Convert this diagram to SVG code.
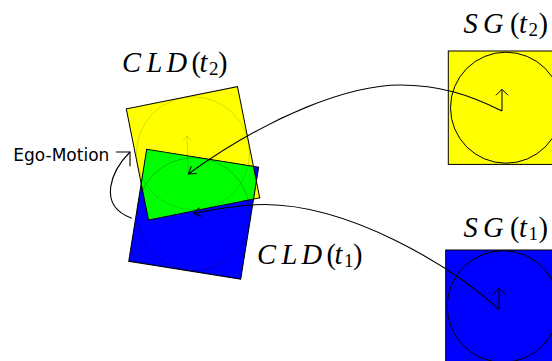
<svg xmlns="http://www.w3.org/2000/svg" width="552" height="361" viewBox="0 0 552 361">
<style>
.math{font-family:"Liberation Serif","DejaVu Serif",serif;font-size:28.5px;font-style:italic;fill:#000}
.up{font-style:normal}
.sub{font-style:normal;font-size:19px}
.lbl{font-family:"DejaVu Sans",sans-serif;font-size:17px;fill:#000}
.edge{fill:none;stroke:#000;stroke-width:1}
.ghost{fill:none;stroke:#000;stroke-width:0.8;stroke-opacity:0.18}
.conn{fill:none;stroke:#000;stroke-width:1.1}
</style>
<defs>
<marker id="ah" markerUnits="userSpaceOnUse" markerWidth="20" markerHeight="20" viewBox="-10 -10 20 20" refX="0" refY="0" orient="auto">
<path d="M-7,-4.5 L0,0 L-7,4.5" fill="none" stroke="#000" stroke-width="1"/>
</marker>
<marker id="ahBig" markerUnits="userSpaceOnUse" markerWidth="24" markerHeight="24" viewBox="-12 -12 24 24" refX="0" refY="0" orient="auto">
<path d="M-10,-10 L0,0 L-10,10" fill="none" stroke="#000" stroke-width="1.1"/>
</marker>
<rect id="sq" x="-56.7" y="-56.7" width="113.4" height="113.4"/>
<clipPath id="clipY">
<use href="#sq" transform="translate(193,153.3) rotate(-11.3)"/>
</clipPath>
</defs>

<g id="cld-t2-fill">
<use href="#sq" transform="translate(193,153.3) rotate(-11.3)" fill="#ffff00"/>
</g>
<g id="cld-t1-fill">
<use href="#sq" transform="translate(193.7,214.2) rotate(9.1)" fill="#0000ff"/>
</g>
<g id="overlap" clip-path="url(#clipY)">
<use href="#sq" transform="translate(193.7,214.2) rotate(9.1)" fill="#00ff00"/>
</g>
<g id="cld-ghosts">
<circle cx="193" cy="153.3" r="56.5" class="ghost"/>
<circle cx="193.7" cy="214.2" r="56.5" class="ghost" style="stroke-opacity:0.3"/>
<path d="M188.3,174 L187,136 M183,141.5 L187,136 L191.5,140.5" class="ghost"/>
</g>
<g id="cld-t2">
<use href="#sq" transform="translate(193,153.3) rotate(-11.3)" class="edge"/>
<text class="math" y="71.7"><tspan x="122">C</tspan><tspan x="146.5">L</tspan><tspan x="166.5">D</tspan><tspan x="191.5" class="up">(</tspan><tspan x="199.5">t</tspan><tspan x="209" dy="2.8" class="sub">2</tspan><tspan x="218" dy="-2.8" class="up">)</tspan></text>
</g>
<g id="cld-t1">
<use href="#sq" transform="translate(193.7,214.2) rotate(9.1)" class="edge"/>
<text class="math" y="264"><tspan x="257">C</tspan><tspan x="281.5">L</tspan><tspan x="301.5">D</tspan><tspan x="326.5" class="up">(</tspan><tspan x="334.5">t</tspan><tspan x="344" dy="2.8" class="sub">1</tspan><tspan x="353" dy="-2.8" class="up">)</tspan></text>
</g>

<g id="sg-t2">
<rect x="448.3" y="51" width="113.4" height="113.4" fill="#ffff00" stroke="#000" stroke-width="1"/>
<circle cx="506" cy="107.7" r="55.5" fill="none" stroke="#000" stroke-width="1"/>
<path d="M502,111 L502,89.3 M496,95.3 L502,89.3 L508,95.3" fill="none" stroke="#000" stroke-width="1"/>
<text class="math" y="33"><tspan x="463.5">S</tspan><tspan x="483">G</tspan><tspan x="510" class="up">(</tspan><tspan x="519">t</tspan><tspan x="528.5" dy="2.8" class="sub">2</tspan><tspan x="538.5" dy="-2.8" class="up">)</tspan></text>
</g>
<g id="sg-t1">
<rect x="445.7" y="250" width="113.4" height="113.4" fill="#0000ff" stroke="#000" stroke-width="1"/>
<circle cx="503" cy="306.5" r="55.8" fill="none" stroke="#000" stroke-width="1"/>
<path d="M499,309.3 L499,288.3 M492.5,294.8 L499,288.3 L505.5,294.8" fill="none" stroke="#000" stroke-width="1"/>
<text class="math" y="236.7"><tspan x="463.5">S</tspan><tspan x="483">G</tspan><tspan x="510" class="up">(</tspan><tspan x="519">t</tspan><tspan x="528.5" dy="2.8" class="sub">1</tspan><tspan x="538.5" dy="-2.8" class="up">)</tspan></text>
</g>
<g id="ego-motion">
<text class="lbl" x="13.3" y="160.7">Ego-Motion</text>
</g>

<g id="connectors">
<path d="M502,111 C470,95 440,85 400,85 C350,85 270,115 188.3,174" class="conn" marker-end="url(#ah)"/>
<path d="M499,309.3 C450,265 350,205 265,204.5 C235,204.5 210,210 193.5,213.5" class="conn" marker-end="url(#ah)"/>
<path d="M131.7,218.3 C96,205 112,170 130,152" class="conn" marker-end="url(#ahBig)"/>
</g>
</svg>
